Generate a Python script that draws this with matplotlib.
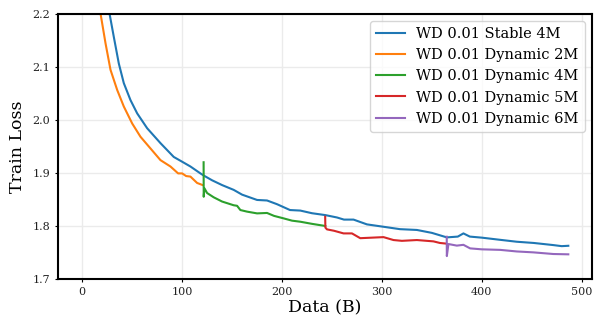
import matplotlib
matplotlib.use("Agg")
import matplotlib.pyplot as plt

plt.rcParams['font.family'] = ['DejaVu Serif']

# Stable 4M
stable_x = [27.3, 31.6, 36.6, 41.6, 48.3, 55, 65, 78.3, 91.6, 100, 108.3, 118.3, 121.6, 130, 140,
            151.6, 160, 175, 185, 195, 208, 218.3, 230, 243.3, 255, 262, 271.6, 285, 301.6, 318,
            335, 350, 365, 376, 381.6, 388, 400, 418, 435, 452, 471.6, 480, 486.6]
stable_y = [2.2, 2.156, 2.106, 2.069, 2.037, 2.012, 1.984, 1.956, 1.930, 1.921, 1.912, 1.899,
            1.895, 1.886, 1.877, 1.868, 1.859, 1.849, 1.848, 1.841, 1.830, 1.829, 1.824, 1.8205,
            1.816, 1.812, 1.812, 1.803, 1.7985, 1.794, 1.7925, 1.787, 1.7785, 1.780, 1.786, 1.780,
            1.778, 1.774, 1.7703, 1.768, 1.764, 1.762, 1.7627]

# Dynamic 2M
dyn2_x = [18.3, 23.3, 28.3, 35, 41.6, 50, 58.3, 68.3, 78.3, 88.3, 96, 100, 104, 108.3, 115, 120.6]
dyn2_y = [2.2, 2.144, 2.094, 2.056, 2.025, 1.993, 1.968, 1.946, 1.924, 1.912, 1.899, 1.899, 1.894,
          1.893, 1.881, 1.877]

# Dynamic 4M
dyn4_x = [121.5, 121.6, 122.3, 125, 131.6, 140, 151.6, 155, 158.3, 165, 175, 185, 192, 201.6,
          210, 218.3, 230, 243.3]
dyn4_y = [1.92, 1.855, 1.871, 1.862, 1.854, 1.846, 1.839, 1.838, 1.830, 1.827, 1.8237, 1.8245,
          1.819, 1.8143, 1.810, 1.808, 1.804, 1.80]

# Dynamic 5M
dyn5_x = [243.2, 243.4, 245, 252, 261.6, 270, 278.3, 290, 301.6, 311.6, 320, 335, 351.6, 358, 363.3]
dyn5_y = [1.8173, 1.797, 1.7936, 1.791, 1.786, 1.786, 1.777, 1.778, 1.779, 1.7735, 1.772, 1.7735,
          1.771, 1.768, 1.767]

# Dynamic 6M
dyn6_x = [364.9, 365.0, 366.6, 375, 381.6, 388.3, 400, 418.3, 435, 451.6, 460, 471.6, 486.6]
dyn6_y = [1.7797, 1.7433, 1.766, 1.763, 1.7645, 1.7578, 1.756, 1.755, 1.752, 1.7503, 1.749,
          1.7472, 1.7466]

fig, ax = plt.subplots(figsize=(5.94, 3.23), dpi=100)
fig.subplots_adjust(left=0.0976, right=0.9966, top=0.958, bottom=0.136)

ax.plot(stable_x, stable_y, color='#1f77b4', lw=1.5, label='WD 0.01 Stable 4M')
ax.plot(dyn2_x, dyn2_y, color='#ff7f0e', lw=1.5, label='WD 0.01 Dynamic 2M')
ax.plot(dyn4_x, dyn4_y, color='#2ca02c', lw=1.5, label='WD 0.01 Dynamic 4M')
ax.plot(dyn5_x, dyn5_y, color='#d62728', lw=1.5, label='WD 0.01 Dynamic 5M')
ax.plot(dyn6_x, dyn6_y, color='#9467bd', lw=1.5, label='WD 0.01 Dynamic 6M')

ax.set_xlim(-24.3, 510.3)
ax.set_ylim(1.7, 2.2)
ax.set_xticks([0, 100, 200, 300, 400, 500])
ax.set_yticks([1.7, 1.8, 1.9, 2.0, 2.1, 2.2])
ax.tick_params(length=2.5, width=0.8, labelsize=8, pad=3, labelcolor='#222222')
ax.grid(True, color='#ebebeb', lw=1)
ax.set_axisbelow(True)
for s in ax.spines.values():
    s.set_color('black')
    s.set_linewidth(1.5)

ax.set_xlabel('Data (B)', fontsize=12.5, labelpad=2)
ax.set_ylabel('Train Loss', fontsize=12.5, labelpad=5)
ax.legend(loc='upper right', fontsize=10.5)

plt.savefig('out.png')
